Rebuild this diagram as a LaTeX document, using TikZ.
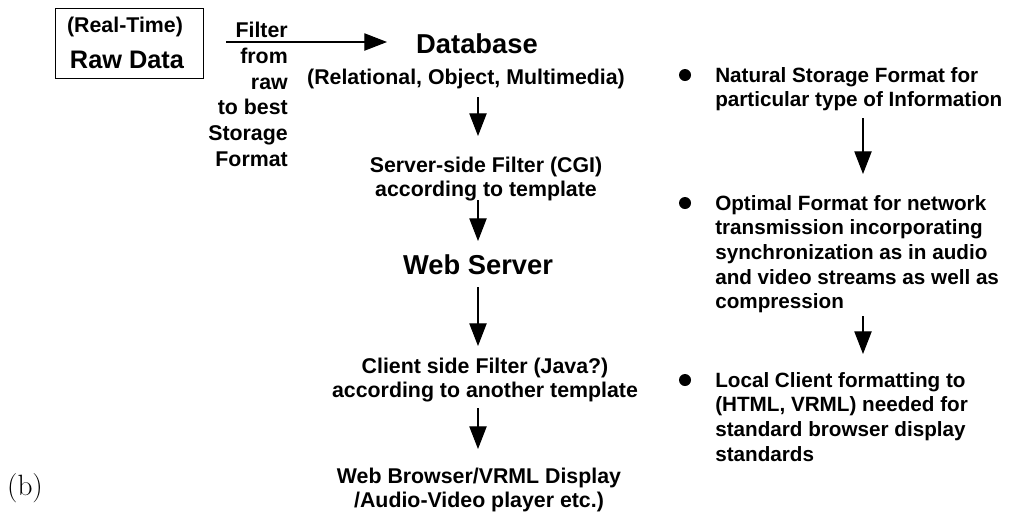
\documentclass[tikz,border=0pt]{standalone}
\usepackage{fontspec}
\setsansfont{Liberation Sans}
\usetikzlibrary{arrows.meta}
\tikzset{
  small/.style={font=\sffamily\bfseries\fontsize{16}{18.7}\selectfont, inner sep=0pt, align=center},
  big/.style={font=\sffamily\bfseries\fontsize{20.5}{24}\selectfont, inner sep=0pt},
  conn/.style={line width=0.8pt, -{Triangle[length=17pt,width=13pt]}},
  bulletdot/.style={circle, fill=black, minimum size=9pt, inner sep=0pt},
  rtext/.style={font=\sffamily\bfseries\fontsize{15.5}{18.5}\selectfont, inner sep=0pt, align=left, anchor=north west},
}
\begin{document}
\begin{tikzpicture}[x=0.75pt,y=-0.75pt]
\useasboundingbox (0,0) rectangle (1010,512);
% raw data box
\node[draw, line width=0.6pt, minimum width=111pt, minimum height=52.5pt, inner sep=0pt] (raw) at (129,43) {};
\node[font=\sffamily\bfseries\fontsize{16}{19}\selectfont, inner sep=0pt] (rt) at (125,27) {(Real-Time)};
\node[font=\sffamily\bfseries\fontsize{19}{22}\selectfont, inner sep=0pt] (rd) at (127,60) {Raw Data};
% filter text
\node[font=\sffamily\bfseries\fontsize{16}{19.3}\selectfont, inner sep=0pt, align=right, anchor=north east] (filt) at (288,22) {Filter\\from\\raw\\to best\\Storage\\Format};
\coordinate (as) at (226,42);
\coordinate (ae) at (387,42);
\draw[conn] (as) -- (ae);
% center column
\node[big] (db) at (477,44) {Database};
\node[small] (rel) at (466,79) {(Relational, Object, Multimedia)};
\node[small] (srv) at (486,179) {Server-side Filter (CGI)\\according to template};
\node[big] (ws) at (478,265) {Web Server};
\node[small] (cli) at (485,380) {Client side Filter (Java?)\\according to another template};
\node[small] (wb) at (479,490) {Web Browser/VRML Display\\/Audio-Video player etc.)};
\coordinate (c1a) at (478,97);  \coordinate (c1b) at (478,136);
\coordinate (c2a) at (478,200); \coordinate (c2b) at (478,241);
\coordinate (c3a) at (478,287); \coordinate (c3b) at (478,346);
\coordinate (c4a) at (478,408); \coordinate (c4b) at (478,449);
\draw[conn] (c1a) -- (c1b);
\draw[conn] (c2a) -- (c2b);
\draw[conn] (c3a) -- (c3b);
\draw[conn] (c4a) -- (c4b);
% (b)
\node[font=\fontsize{22}{26}\selectfont, inner sep=0pt] (lab) at (25,488) {(b)};
% right column
\node[bulletdot] (b1) at (685,75) {};
\node[rtext] (t1) at (715,67) {Natural Storage Format for\\particular type of Information};
\node[bulletdot] (b2) at (685,203) {};
\node[rtext] (t2) at (715,195) {Optimal Format for network\\transmission incorporating\\synchronization as in audio\\and video streams as well as\\compression};
\node[bulletdot] (b3) at (685,380) {};
\node[rtext] (t3) at (715,372) {Local Client formatting to\\(HTML, VRML) needed for\\standard browser display\\standards};
\coordinate (r1a) at (863,118); \coordinate (r1b) at (863,174);
\coordinate (r2a) at (863,316); \coordinate (r2b) at (863,354);
\draw[conn] (r1a) -- (r1b);
\draw[conn] (r2a) -- (r2b);
\end{tikzpicture}
\end{document}
